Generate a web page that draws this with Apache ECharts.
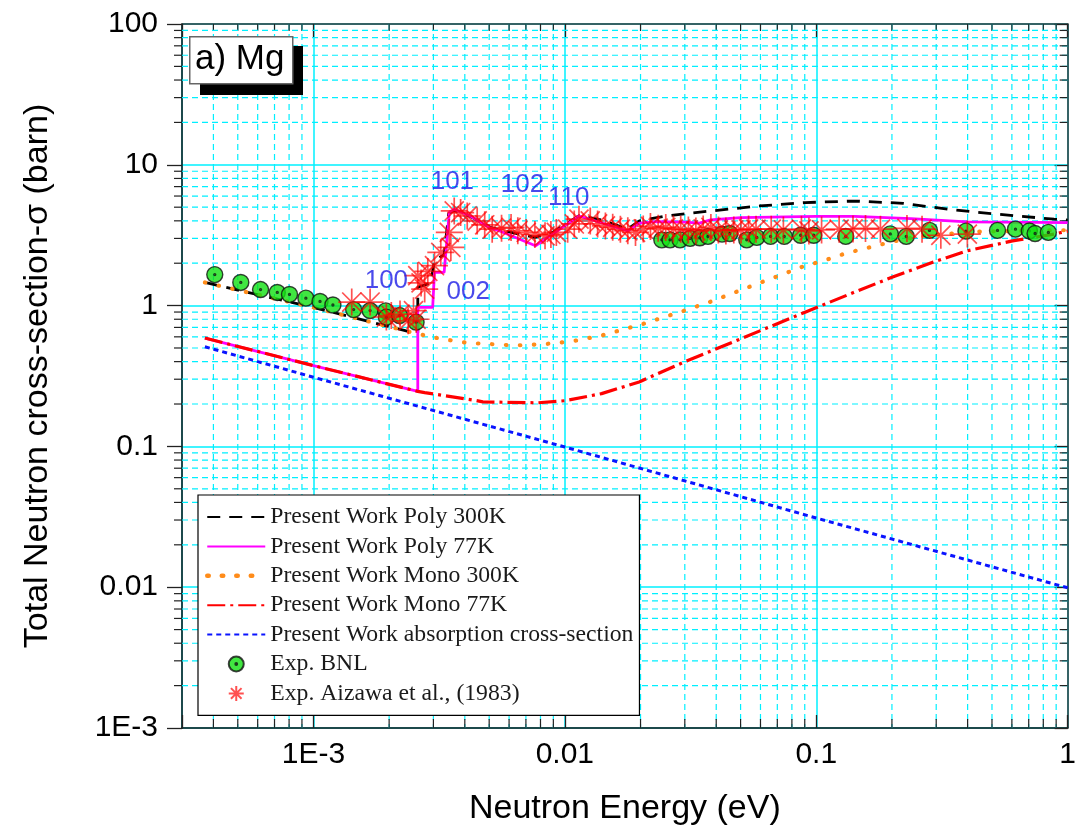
<!DOCTYPE html>
<html>
<head>
<meta charset="utf-8">
<title>Mg total neutron cross-section</title>
<script src="https://cdn.jsdelivr.net/npm/echarts@6/dist/echarts.min.js"></script>
<style>
  html, body { margin: 0; padding: 0; background: #fff; }
  #chart { width: 1079px; height: 831px; }
</style>
</head>
<body>
<div id="chart"></div>
<script>
// ---- Calculated curves (energy in eV, cross-section in barn) ----
const polyHotE = [3.7e-4, 1e-3, 2.6e-3, 2.6e-3, 2.93e-3, 3.03e-3, 3.31e-3, 3.45e-3, 3.63e-3, 4.21e-3, 5.05e-3, 5.5e-3, 7.6e-3, 8.9e-3, 0.0114, 0.014, 0.0178, 0.0198, 0.0252, 0.0381, 0.0596, 0.0903, 0.142, 0.222, 0.335, 0.526, 0.883, 1.0];
const polyHotS = [1.46, 0.97, 0.63, 1.35, 1.45, 2.1, 2.3, 4.5, 4.75, 4.3, 3.6, 3.45, 3.05, 3.3, 4.35, 4.05, 3.5, 4.0, 4.33, 4.7, 5.1, 5.39, 5.53, 5.33, 4.83, 4.46, 4.11, 4.05];

const polyColdE = [3.7e-4, 1e-3, 2.6e-3, 2.6e-3, 2.98e-3, 3.03e-3, 3.31e-3, 3.47e-3, 3.63e-3, 4.21e-3, 5.05e-3, 5.51e-3, 7.64e-3, 0.0114, 0.0178, 0.0198, 0.023, 0.03, 0.0343, 0.038, 0.0501, 0.1, 0.142, 0.238, 0.398, 1.0];
const polyColdS = [0.588, 0.375, 0.246, 0.97, 0.97, 1.72, 1.72, 4.6, 4.83, 4.33, 3.55, 3.39, 2.66, 4.33, 3.39, 3.85, 3.95, 3.92, 3.85, 4.06, 4.22, 4.30, 4.30, 4.15, 3.93, 3.89];

const monoHotE = [3.7e-4, 1e-3, 2.6e-3, 3.21e-3, 4.15e-3, 4.72e-3, 6.32e-3, 8.05e-3, 0.0106, 0.014, 0.0205, 0.0299, 0.0381, 0.0557, 0.071, 0.0903, 0.1037, 0.132, 0.2, 0.255, 0.413, 0.883, 1.0];
const monoHotS = [1.46, 0.97, 0.63, 0.581, 0.542, 0.536, 0.521, 0.53, 0.556, 0.613, 0.742, 0.922, 1.067, 1.385, 1.63, 1.92, 2.05, 2.36, 2.84, 3.10, 3.34, 3.43, 3.43];

const monoColdE = [3.7e-4, 1e-3, 2.6e-3, 2.77e-3, 4.35e-3, 4.72e-3, 7.78e-3, 0.01, 0.014, 0.01975, 0.0299, 0.0501, 0.0903, 0.1416, 0.2, 0.302, 0.398, 0.604, 0.883, 1.0];
const monoColdS = [0.588, 0.375, 0.246, 0.241, 0.213, 0.207, 0.204, 0.211, 0.237, 0.287, 0.398, 0.581, 0.898, 1.244, 1.589, 2.08, 2.45, 2.88, 3.22, 3.38];

const absorbE = [3.7e-4, 1e-3, 0.01, 0.1, 1.0];
const absorbS = [0.51, 0.31, 0.099, 0.031, 0.0099];

// ---- Measurements ----
const bnlE = [4.05e-4, 5.14e-4, 6.16e-4, 7.18e-4, 8.03e-4, 9.33e-4, 1.062e-3, 1.195e-3, 1.445e-3, 1.68e-3, 1.94e-3, 1.95e-3, 2.2e-3, 2.56e-3,
  0.0243, 0.0262, 0.0287, 0.0315, 0.0344, 0.0371, 0.0422, 0.0453, 0.0529, 0.058, 0.0658, 0.0746, 0.0867, 0.0977, 0.131, 0.197, 0.228, 0.282, 0.394, 0.526, 0.62, 0.704, 0.742, 0.838];
const bnlS = [1.66, 1.46, 1.30, 1.24, 1.20, 1.13, 1.07, 1.01, 0.937, 0.922, 0.917, 0.828, 0.85, 0.763,
  2.93, 2.93, 2.93, 3.0, 3.03, 3.10, 3.22, 3.25, 2.93, 3.05, 3.10, 3.10, 3.16, 3.16, 3.10, 3.23, 3.10, 3.42, 3.38, 3.42, 3.49, 3.39, 3.25, 3.31];

const aizawaE = [1.42e-3, 1.68e-3, 1.95e-3, 2.04e-3, 2.21e-3, 2.38e-3, 2.5e-3, 2.56e-3, 2.6e-3, 2.68e-3, 2.77e-3, 2.85e-3, 3.03e-3, 3.21e-3, 3.47e-3, 3.52e-3, 3.63e-3, 3.85e-3, 4.09e-3, 4.48e-3, 4.8e-3, 5.14e-3, 5.6e-3, 6.11e-3, 6.5e-3, 7.02e-3, 7.6e-3, 8.34e-3, 8.8e-3, 9.25e-3,
  0.01026, 0.0109, 0.01138, 0.01262, 0.0135, 0.0145, 0.0155, 0.01663, 0.0178, 0.0191, 0.0205, 0.0219, 0.0235, 0.0252, 0.027, 0.0289, 0.031, 0.0332, 0.0355, 0.0381, 0.0408, 0.0437, 0.047, 0.0502, 0.0538, 0.0576, 0.0662, 0.074, 0.0873, 0.0935, 0.105, 0.1233, 0.14, 0.157, 0.18, 0.2295, 0.2635, 0.313, 0.399];
const aizawaS = [1.06, 1.06, 0.83, 0.85, 0.87, 0.78, 0.92, 0.80, 1.63, 1.45, 1.31, 1.75, 1.92, 2.39, 3.31, 2.59, 4.70, 4.58, 4.33, 3.99, 3.75, 3.49, 3.55, 3.59, 3.40, 3.31, 3.20, 3.13, 3.20, 3.31,
  3.49, 3.80, 4.11, 3.99, 3.80, 3.68, 3.60, 3.49, 3.40, 3.31, 3.50, 3.65, 3.55, 3.59, 3.50, 3.49, 3.45, 3.39, 3.50, 3.59, 3.45, 3.39, 3.45, 3.45, 3.50, 3.49, 3.49, 3.45, 3.49, 3.39, 3.45, 3.49, 3.50, 3.53, 3.49, 3.53, 3.49, 3.16, 3.22];

// ---- Bragg-edge annotations ----
const peakNames = ['100', '002', '101', '102', '110'];
const peakE = [1.95e-3, 4.13e-3, 3.57e-3, 6.78e-3, 0.01035];
const peakS = [1.50, 1.26, 7.57, 7.17, 5.80];

// ---- Axis ticks ----
const xTickExps = [-3, -2, -1, 0];
const xTickLabels = ['1E-3', '0.01', '0.1', '1'];
const yTickExps = [-3, -2, -1, 0, 1, 2];
const yTickLabels = ['1E-3', '0.01', '0.1', '1', '10', '100'];

const X_MIN = 3e-4, X_MAX = 1, Y_MIN = 1e-3, Y_MAX = 100;

const zip = (a, b) => a.map((v, i) => [v, b[i]]);

const xMinor = [];
for (let d = -4; d <= -1; d++) for (let m = 2; m <= 9; m++) {
  const v = m * Math.pow(10, d);
  if (v > X_MIN * 1.01 && v < X_MAX) xMinor.push([v, 1]);
}
const yMinor = [];
for (let d = -3; d <= 1; d++) for (let m = 2; m <= 9; m++) {
  yMinor.push([0.01, m * Math.pow(10, d)]);
}

const GRID_COLOR = '#00f0ff';
const TICK_COLOR = '#222';
const SANS = 'Liberation Sans, Arial, sans-serif';
const SERIF = 'Liberation Serif, Times New Roman, serif';

function tickLabel(exps, labels) {
  return function (v) {
    const e = Math.log10(v);
    const r = Math.round(e);
    if (Math.abs(e - r) > 1e-6) return '';
    const i = exps.indexOf(r);
    return i < 0 ? '' : labels[i];
  };
}

function renderXMinor(params, api) {
  const cs = params.coordSys;
  const x = api.coord([api.value(0), 1])[0];
  const top = cs.y, bot = cs.y + cs.height;
  return {
    type: 'group',
    children: [
      { type: 'line', shape: { x1: x, y1: top, x2: x, y2: bot }, style: { stroke: GRID_COLOR, lineWidth: 1.2, lineDash: [6, 4] } },
      { type: 'line', shape: { x1: x, y1: bot, x2: x, y2: bot - 9 }, style: { stroke: TICK_COLOR, lineWidth: 1.2 } },
      { type: 'line', shape: { x1: x, y1: top, x2: x, y2: top + 7 }, style: { stroke: TICK_COLOR, lineWidth: 1.2 } }
    ]
  };
}

function renderYMinor(params, api) {
  const cs = params.coordSys;
  const y = api.coord([0.01, api.value(1)])[1];
  const left = cs.x, right = cs.x + cs.width;
  return {
    type: 'group',
    children: [
      { type: 'line', shape: { x1: left, y1: y, x2: right, y2: y }, style: { stroke: GRID_COLOR, lineWidth: 1.2, lineDash: [6, 4] } },
      { type: 'line', shape: { x1: left, y1: y, x2: left - 8, y2: y }, style: { stroke: TICK_COLOR, lineWidth: 1.2 } },
      { type: 'line', shape: { x1: right, y1: y, x2: right - 8, y2: y }, style: { stroke: TICK_COLOR, lineWidth: 1.2 } }
    ]
  };
}

// circle with a dot in the middle
const BNL_SYMBOL = 'path://M-10,0A10,10 0 1,0 10,0A10,10 0 1,0 -10,0ZM-1.2,0A1.2,1.2 0 1,0 1.2,0A1.2,1.2 0 1,0 -1.2,0Z';
// eight-armed asterisk
const STAR_SYMBOL = 'path://M0,-10L0,10M-10,0L10,0M-7.07,-7.07L7.07,7.07M-7.07,7.07L7.07,-7.07';

// line entries in the legend show only the line sample
const lineEntry = (name, extra) => Object.assign({ name: name, itemStyle: { opacity: 0 } }, extra || {});

const chart = echarts.init(document.getElementById('chart'), null, { renderer: 'canvas' });

const option = {
  animation: false,
  backgroundColor: '#fff',
  grid: { left: 182, right: 1, top: 24, bottom: 100, containLabel: false },
  xAxis: [
    {
      type: 'log', logBase: 10, min: X_MIN, max: X_MAX, position: 'bottom',
      name: 'Neutron Energy (eV)', nameLocation: 'middle', nameGap: 64,
      nameTextStyle: { fontFamily: SANS, fontSize: 34, color: '#000' },
      axisLine: { lineStyle: { color: '#111', width: 1.5 } },
      axisTick: { inside: true, length: 13, lineStyle: { color: TICK_COLOR, width: 1.3 } },
      axisLabel: { fontFamily: SANS, fontSize: 30, color: '#000', margin: 12, formatter: tickLabel(xTickExps, xTickLabels) },
      splitLine: { show: true, lineStyle: { color: GRID_COLOR, width: 1.5, type: 'solid' } }
    },
    {
      type: 'log', logBase: 10, min: X_MIN, max: X_MAX, position: 'top',
      axisLine: { lineStyle: { color: '#333', width: 1.5 } },
      axisTick: { inside: true, length: 13, lineStyle: { color: TICK_COLOR, width: 1.3 } },
      axisLabel: { show: false },
      splitLine: { show: false }
    }
  ],
  yAxis: [
    {
      type: 'log', logBase: 10, min: Y_MIN, max: Y_MAX, position: 'left',
      name: 'Total Neutron cross-section-σ (barn)', nameLocation: 'middle', nameGap: 127,
      nameTextStyle: { fontFamily: SANS, fontSize: 34, color: '#000' },
      axisLine: { lineStyle: { color: '#111', width: 1.5 } },
      axisTick: { inside: false, length: 15, lineStyle: { color: TICK_COLOR, width: 1.3 } },
      axisLabel: { fontFamily: SANS, fontSize: 30, color: '#000', margin: 24, formatter: tickLabel(yTickExps, yTickLabels) },
      splitLine: { show: true, lineStyle: { color: GRID_COLOR, width: 1.5, type: 'solid' } }
    },
    {
      type: 'log', logBase: 10, min: Y_MIN, max: Y_MAX, position: 'right',
      axisLine: { lineStyle: { color: '#333', width: 1.5 } },
      axisTick: { inside: true, length: 13, lineStyle: { color: TICK_COLOR, width: 1.3 } },
      axisLabel: { show: false },
      splitLine: { show: false }
    }
  ],
  legend: {
    orient: 'vertical', left: 198, top: 495,
    padding: [10, 6, 10, 7], itemGap: 5.4, itemWidth: 58, itemHeight: 15,
    backgroundColor: '#fff', borderColor: '#000', borderWidth: 1.2, borderRadius: 0,
    textStyle: { fontFamily: SERIF, fontSize: 23.7, lineHeight: 24, color: '#1a1a1a' },
    data: [
      lineEntry('Present Work Poly 300K'), lineEntry('Present Work Poly 77K'),
      lineEntry('Present Work Mono 300K', { lineStyle: { cap: 'round', type: [1.5, 13], width: 4.5 } }),
      lineEntry('Present Work Mono 77K'), lineEntry('Present Work absorption cross-section'),
      'Exp. BNL', 'Exp. Aizawa et al., (1983)'
    ]
  },
  graphic: [
    { type: 'rect', left: 200, top: 46, shape: { width: 103, height: 49 }, style: { fill: '#000' }, z: 20 },
    { type: 'rect', left: 189, top: 36, shape: { width: 103, height: 47 }, style: { fill: '#fff', stroke: '#666', lineWidth: 1.5 }, z: 21 },
    { type: 'text', left: 195, top: 42, style: { text: 'a) Mg', font: '35px ' + SANS, fill: '#000' }, z: 22 }
  ],
  series: [
    { type: 'custom', name: 'xminor', xAxisIndex: 0, yAxisIndex: 0, data: xMinor, renderItem: renderXMinor, silent: true, z: 1, clip: false },
    { type: 'custom', name: 'yminor', xAxisIndex: 0, yAxisIndex: 0, data: yMinor, renderItem: renderYMinor, silent: true, z: 1, clip: false },
    {
      name: 'Present Work Poly 300K', type: 'line', data: zip(polyHotE, polyHotS), symbol: 'none', z: 3,
      lineStyle: { color: '#000', width: 2.8, type: [13, 9] }, itemStyle: { color: '#000' }
    },
    {
      name: 'Present Work Poly 77K', type: 'line', data: zip(polyColdE, polyColdS), symbol: 'none', z: 3,
      lineStyle: { color: '#ff00ff', width: 2.8, type: 'solid' }, itemStyle: { color: '#ff00ff' }
    },
    {
      name: 'Present Work Mono 300K', type: 'line', data: zip(monoHotE, monoHotS), symbol: 'none', z: 3,
      lineStyle: { color: '#ff8c1a', width: 4.2, type: [0.5, 13.5], cap: 'round' }, itemStyle: { color: '#ff8c1a' }
    },
    {
      name: 'Present Work Mono 77K', type: 'line', data: zip(monoColdE, monoColdS), symbol: 'none', z: 3,
      lineStyle: { color: '#ff0000', width: 3.2, type: [18, 5, 3, 5] }, itemStyle: { color: '#ff0000' }
    },
    {
      name: 'Present Work absorption cross-section', type: 'line', data: zip(absorbE, absorbS), symbol: 'none', z: 3,
      lineStyle: { color: '#0a14ff', width: 3, type: [5, 4] }, itemStyle: { color: '#0a14ff' }
    },
    {
      name: 'Exp. BNL', type: 'scatter', data: zip(bnlE, bnlS), symbol: BNL_SYMBOL, symbolSize: 16, symbolKeepAspect: true, z: 4,
      itemStyle: { color: '#12e012', borderColor: '#111', borderWidth: 1.4 }
    },
    {
      name: 'Exp. Aizawa et al., (1983)', type: 'scatter', data: zip(aizawaE, aizawaS), symbol: STAR_SYMBOL, symbolSize: 27, symbolKeepAspect: true, z: 5,
      itemStyle: { color: 'rgba(0,0,0,0)', borderColor: 'rgba(255,0,0,0.85)', borderWidth: 1.7 }
    },
    {
      name: 'peaks', type: 'scatter', silent: true, z: 6,
      data: peakE.map((e, i) => [e, peakS[i], peakNames[i]]),
      symbolSize: 1, itemStyle: { color: 'rgba(0,0,0,0)' },
      label: { show: true, position: 'inside', formatter: p => p.data[2], fontFamily: SANS, fontSize: 26, color: '#1c1ce6' }
    }
  ]
};

chart.setOption(option);
</script>
</body>
</html>
